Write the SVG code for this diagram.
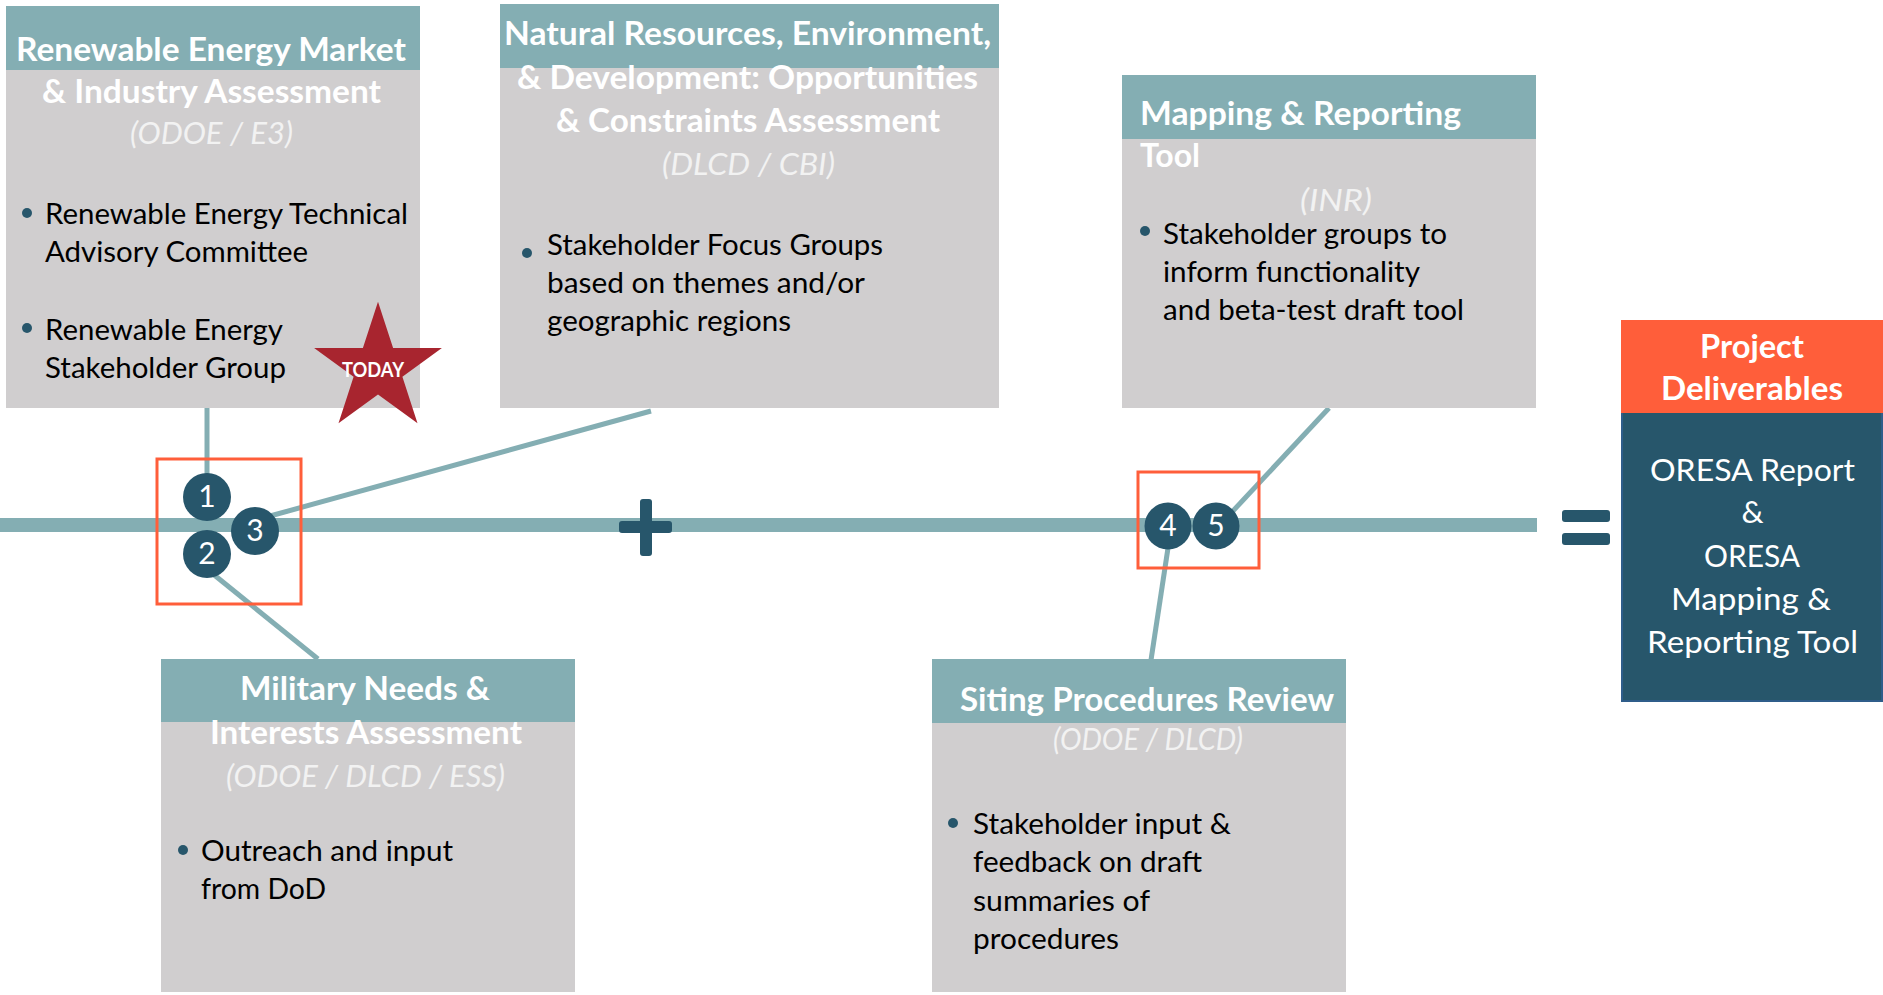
<svg xmlns="http://www.w3.org/2000/svg" width="1883" height="995" viewBox="0 0 1883 995">
<style>
.hdr{fill:#84aeb3}
.body{fill:#d0cecf}
.ttl{font-family:Lato,"Open Sans",sans-serif;font-weight:bold;font-size:32px;fill:#ffffff}
.sub{font-family:Lato,"Open Sans",sans-serif;font-style:italic;font-size:30px;fill:#f2f2f2}
.txt{font-family:Lato,"Open Sans",sans-serif;font-size:29px;fill:#000000}
.dot{fill:#27566b}
.num{font-family:Lato,"Open Sans",sans-serif;font-size:30px;fill:#ffffff;text-anchor:middle}
.circ{fill:#27566b}
.conn{stroke:#84aeb3;stroke-width:5;fill:none}
.sq{fill:none;stroke:#ff5e3a;stroke-width:3}
.dtx{font-family:Lato,"Open Sans",sans-serif;font-size:31px;fill:#ffffff;text-anchor:middle}
</style>
<rect width="1883" height="995" fill="#ffffff"/>

<g id="timeline">
  <line x1="0" y1="525" x2="1537" y2="525" stroke="#84aeb3" stroke-width="14"/>
  <rect x="640" y="499" width="12" height="57" rx="3" fill="#27566b"/>
  <rect x="619" y="521" width="53" height="12" rx="3" fill="#27566b"/>
  <rect x="1562" y="510" width="48" height="12" rx="3" fill="#27566b"/>
  <rect x="1562" y="533" width="48" height="12" rx="3" fill="#27566b"/>
</g>

<g id="connectors">
  <line class="conn" x1="207" y1="408" x2="207" y2="475"/>
  <line class="conn" x1="651" y1="411" x2="270" y2="516"/>
  <line class="conn" x1="213" y1="574" x2="318" y2="659"/>
  <line class="conn" x1="1329" y1="408" x2="1232" y2="512"/>
  <line class="conn" x1="1168" y1="548" x2="1151" y2="660"/>
</g>

<g id="node-renewable">
  <rect class="body" x="6" y="6" width="414" height="402"/>
  <rect class="hdr" x="6" y="6" width="414" height="64"/>
  <text class="ttl" x="211" y="61" text-anchor="middle" textLength="390" lengthAdjust="spacingAndGlyphs">Renewable Energy Market</text>
  <text class="ttl" x="211.5" y="103" text-anchor="middle" textLength="339" lengthAdjust="spacingAndGlyphs">&amp; Industry Assessment</text>
  <text class="sub" x="211.5" y="144" text-anchor="middle" textLength="163" lengthAdjust="spacingAndGlyphs">(ODOE / E3)</text>
  <circle class="dot" cx="27" cy="213" r="5"/>
  <text class="txt" x="45" y="224" textLength="363" lengthAdjust="spacingAndGlyphs">Renewable Energy Technical</text>
  <text class="txt" x="45" y="262" textLength="263" lengthAdjust="spacingAndGlyphs">Advisory Committee</text>
  <circle class="dot" cx="27" cy="328" r="5"/>
  <text class="txt" x="45" y="340" textLength="238" lengthAdjust="spacingAndGlyphs">Renewable Energy</text>
  <text class="txt" x="45" y="378" textLength="241" lengthAdjust="spacingAndGlyphs">Stakeholder Group</text>
</g>

<g id="today-star">
  <polygon points="378,301.7 393.1,348.1 441.9,348.1 402.4,376.8 417.5,423.3 378,394.6 338.5,423.3 353.6,376.8 314.1,348.1 362.9,348.1" fill="#a8252f"/>
  <text x="373" y="377" text-anchor="middle" font-family="Lato,'Open Sans',sans-serif" font-weight="bold" font-size="20" fill="#ffffff" textLength="62" lengthAdjust="spacingAndGlyphs">TODAY</text>
</g>

<g id="node-natural">
  <rect class="body" x="500" y="4" width="499" height="404"/>
  <rect class="hdr" x="500" y="4" width="499" height="64"/>
  <text class="ttl" x="747.5" y="45" text-anchor="middle" textLength="487" lengthAdjust="spacingAndGlyphs">Natural Resources, Environment,</text>
  <text class="ttl" x="747.5" y="89" text-anchor="middle" textLength="461" lengthAdjust="spacingAndGlyphs">&amp; Development: Opportunities</text>
  <text class="ttl" x="748" y="132" text-anchor="middle" textLength="384" lengthAdjust="spacingAndGlyphs">&amp; Constraints Assessment</text>
  <text class="sub" x="748.5" y="175" text-anchor="middle" textLength="173" lengthAdjust="spacingAndGlyphs">(DLCD / CBI)</text>
  <circle class="dot" cx="527" cy="253" r="5"/>
  <text class="txt" x="547" y="255" textLength="336" lengthAdjust="spacingAndGlyphs">Stakeholder Focus Groups</text>
  <text class="txt" x="547" y="293" textLength="318" lengthAdjust="spacingAndGlyphs">based on themes and/or</text>
  <text class="txt" x="547" y="331" textLength="244" lengthAdjust="spacingAndGlyphs">geographic regions</text>
</g>

<g id="node-mapping">
  <rect class="body" x="1122" y="75" width="414" height="333"/>
  <rect class="hdr" x="1122" y="75" width="414" height="64"/>
  <text class="ttl" x="1140" y="125" textLength="321" lengthAdjust="spacingAndGlyphs">Mapping &amp; Reporting</text>
  <text class="ttl" x="1140" y="167" textLength="60" lengthAdjust="spacingAndGlyphs">Tool</text>
  <text class="sub" x="1336" y="211" text-anchor="middle" textLength="72" lengthAdjust="spacingAndGlyphs">(INR)</text>
  <circle class="dot" cx="1145" cy="231" r="5"/>
  <text class="txt" x="1163" y="244" textLength="284" lengthAdjust="spacingAndGlyphs">Stakeholder groups to</text>
  <text class="txt" x="1163" y="282" textLength="257" lengthAdjust="spacingAndGlyphs">inform functionality</text>
  <text class="txt" x="1163" y="320" textLength="301" lengthAdjust="spacingAndGlyphs">and beta-test draft tool</text>
</g>

<g id="node-military">
  <rect class="body" x="161" y="659" width="414" height="333"/>
  <rect class="hdr" x="161" y="659" width="414" height="63"/>
  <text class="ttl" x="365" y="700" text-anchor="middle" textLength="250" lengthAdjust="spacingAndGlyphs">Military Needs &amp;</text>
  <text class="ttl" x="366" y="744" text-anchor="middle" textLength="312" lengthAdjust="spacingAndGlyphs">Interests Assessment</text>
  <text class="sub" x="365.5" y="787" text-anchor="middle" textLength="279" lengthAdjust="spacingAndGlyphs">(ODOE / DLCD / ESS)</text>
  <circle class="dot" cx="183" cy="850" r="5"/>
  <text class="txt" x="201" y="861" textLength="252" lengthAdjust="spacingAndGlyphs">Outreach and input</text>
  <text class="txt" x="201" y="899" textLength="125" lengthAdjust="spacingAndGlyphs">from DoD</text>
</g>

<g id="node-siting">
  <rect class="body" x="932" y="659" width="414" height="333"/>
  <rect class="hdr" x="932" y="659" width="414" height="64"/>
  <text class="ttl" x="1147" y="711" text-anchor="middle" textLength="374" lengthAdjust="spacingAndGlyphs">Siting Procedures Review</text>
  <text class="sub" x="1148" y="750" text-anchor="middle" textLength="190" lengthAdjust="spacingAndGlyphs">(ODOE / DLCD)</text>
  <circle class="dot" cx="953" cy="823" r="5"/>
  <text class="txt" x="973" y="834" textLength="258" lengthAdjust="spacingAndGlyphs">Stakeholder input &amp;</text>
  <text class="txt" x="973" y="872" textLength="229" lengthAdjust="spacingAndGlyphs">feedback on draft</text>
  <text class="txt" x="973" y="911" textLength="177" lengthAdjust="spacingAndGlyphs">summaries of</text>
  <text class="txt" x="973" y="949" textLength="146" lengthAdjust="spacingAndGlyphs">procedures</text>
</g>

<g id="node-deliverables">
  <rect x="1622" y="412" width="260" height="289" fill="#27566b" stroke="#2f5d8a" stroke-width="2"/>
  <rect x="1621" y="320" width="262" height="93" fill="#ff5e3a"/>
  <text class="ttl" x="1752" y="358" text-anchor="middle" font-size="33" textLength="104" lengthAdjust="spacingAndGlyphs">Project</text>
  <text class="ttl" x="1752" y="400" text-anchor="middle" font-size="33" textLength="182" lengthAdjust="spacingAndGlyphs">Deliverables</text>
  <text class="dtx" x="1752.5" y="481" textLength="205" lengthAdjust="spacingAndGlyphs">ORESA Report</text>
  <text class="dtx" x="1752.5" y="523">&amp;</text>
  <text class="dtx" x="1752" y="567" textLength="96" lengthAdjust="spacingAndGlyphs">ORESA</text>
  <text class="dtx" x="1751" y="610" textLength="160" lengthAdjust="spacingAndGlyphs">Mapping &amp;</text>
  <text class="dtx" x="1752.5" y="653" textLength="211" lengthAdjust="spacingAndGlyphs">Reporting Tool</text>
</g>

<g id="group-1-2-3">
  <rect class="sq" x="157" y="459" width="144" height="145"/>
  <circle class="circ" cx="207" cy="497" r="24"/>
  <text class="num" x="207" y="507">1</text>
  <circle class="circ" cx="207" cy="554" r="24"/>
  <text class="num" x="207" y="564">2</text>
  <circle class="circ" cx="255" cy="531" r="24"/>
  <text class="num" x="255" y="541">3</text>
</g>

<g id="group-4-5">
  <rect class="sq" x="1138" y="472" width="121" height="96"/>
  <circle class="circ" cx="1168" cy="526" r="23.5"/>
  <text class="num" x="1168" y="536">4</text>
  <circle class="circ" cx="1216" cy="526" r="23.5"/>
  <text class="num" x="1216" y="536">5</text>
</g>
</svg>
